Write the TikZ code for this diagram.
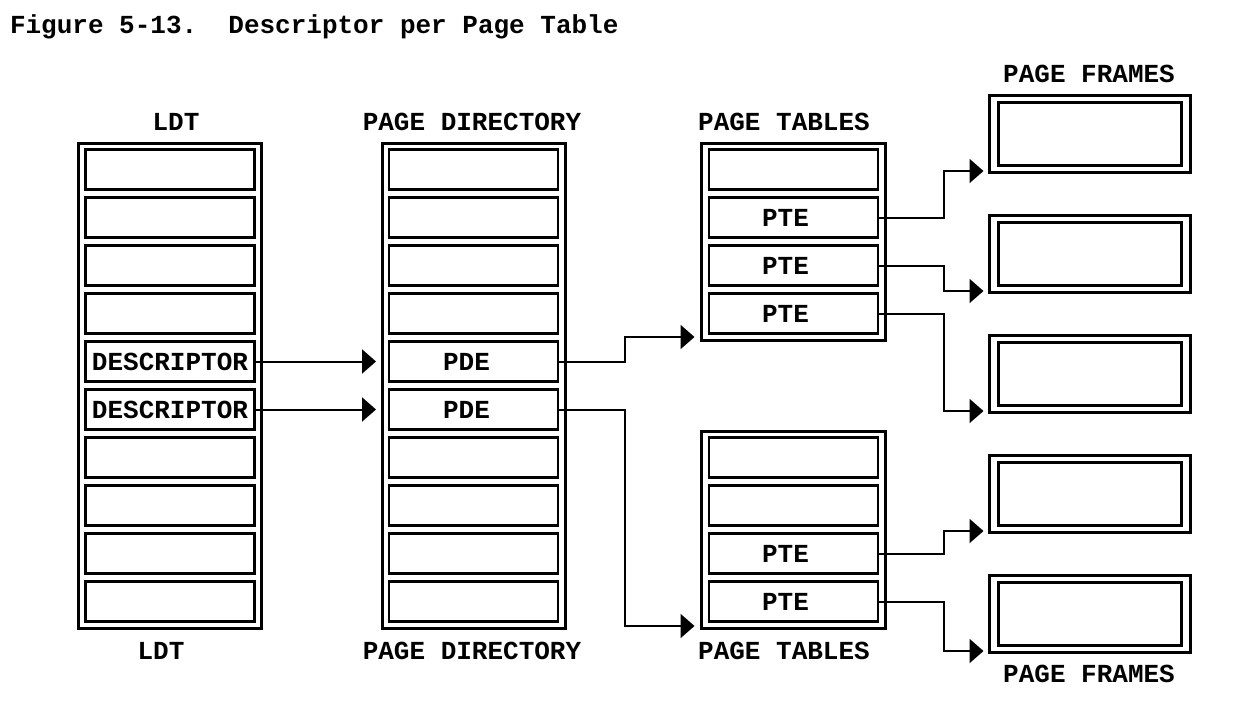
\documentclass[tikz,border=0pt]{standalone}
\usepackage{fontspec}
\setmonofont{Liberation Mono}
\usetikzlibrary{arrows.meta}
\begin{document}
\begin{tikzpicture}[x=1pt,y=-1pt,
  every node/.style={font=\fontsize{26}{30}\selectfont\ttfamily\bfseries, inner sep=0pt, outer sep=0pt},
  colframe/.style={draw, line width=3pt, minimum width=183pt, minimum height=485pt},
  ptframe/.style={draw, line width=3pt, minimum width=184pt, minimum height=197pt},
  cell/.style={draw, line width=2.6pt, minimum width=169pt, minimum height=40.5pt},
  pfout/.style={draw, line width=3pt, minimum width=201pt, minimum height=77pt},
  pfin/.style={draw, line width=3pt, minimum width=183pt, minimum height=63pt},
  lbl/.style={anchor=base},
  arr/.style={line width=2pt, -{Triangle[length=14pt,width=24pt]}}]
\useasboundingbox (0,0) rectangle (1252,704);
% title
\node[anchor=base west] (title) at (10,33) {Figure 5-13.\ \ Descriptor per Page Table};
% column labels
\node[lbl] (ldtT) at (176,130) {LDT};
\node[lbl] (ldtB) at (161,659) {LDT};
\node[lbl] (pdT) at (472,130) {PAGE DIRECTORY};
\node[lbl] (pdB) at (472,659) {PAGE DIRECTORY};
\node[lbl] (ptT) at (784,130) {PAGE TABLES};
\node[lbl] (ptB) at (784,659) {PAGE TABLES};
\node[lbl] (pfT) at (1089,82) {PAGE FRAMES};
\node[lbl] (pfB) at (1089,682) {PAGE FRAMES};
% frames
\node[colframe] (ldt) at (170,386) {};
\node[colframe] (pd) at (473.5,386) {};
\node[ptframe] (ptA) at (793.5,242) {};
\node[ptframe] (ptB) at (793.5,530) {};
% LDT cells
\foreach \i/\t in {1/{},2/{},3/{},4/{},5/DESCRIPTOR,6/DESCRIPTOR,7/{},8/{},9/{},10/{}}
  \node[cell] (l\i) at (170,{169.5+48*(\i-1)}) {\t};
% page directory cells
\foreach \i/\t in {1/{},2/{},3/{},4/{},5/{PDE\hspace*{14pt}},6/{PDE\hspace*{14pt}},7/{},8/{},9/{},10/{}}
  \node[cell] (p\i) at (473.5,{169.5+48*(\i-1)}) {\t};
% page table cells
\foreach \i/\t in {1/{},2/{PTE\hspace*{16pt}},3/{PTE\hspace*{16pt}},4/{PTE\hspace*{16pt}}}
  \node[cell] (a\i) at (793.5,{169.5+48*(\i-1)}) {\t};
\foreach \i/\t in {1/{},2/{},3/{PTE\hspace*{16pt}},4/{PTE\hspace*{16pt}}}
  \node[cell] (b\i) at (793.5,{457.5+48*(\i-1)}) {\t};
% page frames
\foreach \i in {1,...,5} {
  \node[pfout] (f\i) at (1090,{134+120*(\i-1)}) {};
  \node[pfin] (g\i) at (f\i.center) {};
}
% connectors
\draw[arr] (l5.east) -- ([xshift=-6pt]l5.east -| pd.west);
\draw[arr] (l6.east) -- ([xshift=-6pt]l6.east -| pd.west);
\draw[arr] (p5.east) -- ++(66.5,0) |- ([xshift=-7pt,yshift=3.5pt]ptA.south west);
\draw[arr] (p6.east) -- ++(66.5,0) |- ([xshift=-7pt,yshift=2.5pt]ptB.south west);
\draw[arr] (a2.east) -- ++(65.5,0) |- ([xshift=-6pt,yshift=1.5pt]f1.south west);
\draw[arr] (a3.east) -- ++(65.5,0) |- ([xshift=-6pt,yshift=1.5pt]f2.south west);
\draw[arr] (a4.east) -- ++(65.5,0) |- ([xshift=-6pt,yshift=1.5pt]f3.south west);
\draw[arr] (b3.east) -- ++(65.5,0) |- ([xshift=-6pt,yshift=1.5pt]f4.south west);
\draw[arr] (b4.east) -- ++(65.5,0) |- ([xshift=-6pt,yshift=1.5pt]f5.south west);
\end{tikzpicture}
\end{document}
